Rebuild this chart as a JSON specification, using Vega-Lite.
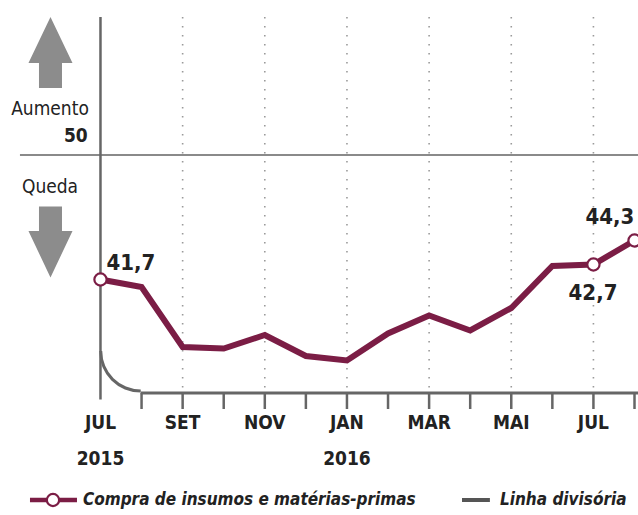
{
  "$schema": "https://vega.github.io/schema/vega-lite/v6.json",
  "width": 638,
  "height": 515,
  "autosize": {"type": "none"},
  "padding": 0,
  "background": "white",
  "config": {"view": {"stroke": null}, "font": "DejaVu Sans Condensed"},
  "datasets": {
    "series": [
      {"x": 0, "y": 41.7},
      {"x": 1, "y": 41.2},
      {"x": 2, "y": 37.2},
      {"x": 3, "y": 37.1},
      {"x": 4, "y": 38.0},
      {"x": 5, "y": 36.6},
      {"x": 6, "y": 36.3},
      {"x": 7, "y": 38.1},
      {"x": 8, "y": 39.3},
      {"x": 9, "y": 38.3},
      {"x": 10, "y": 39.8},
      {"x": 11, "y": 42.6},
      {"x": 12, "y": 42.7},
      {"x": 13, "y": 44.3}
    ],
    "markers": [
      {"x": 0, "y": 41.7},
      {"x": 12, "y": 42.7},
      {"x": 13, "y": 44.3}
    ],
    "valueLabels": [
      {"x": 0.742, "y": 42.35, "label": "41,7"},
      {"x": 11.99, "y": 40.35, "label": "42,7"},
      {"x": 12.4, "y": 45.4, "label": "44,3"}
    ],
    "grid": [
      {"x": 2, "y": 59.2, "y2": 34.133},
      {"x": 4, "y": 59.2, "y2": 34.133},
      {"x": 6, "y": 59.2, "y2": 34.133},
      {"x": 8, "y": 59.2, "y2": 34.133},
      {"x": 10, "y": 59.2, "y2": 34.133},
      {"x": 12, "y": 59.2, "y2": 34.133}
    ],
    "ticks": [
      {"x": 1, "y": 34.133, "y2": 33.067},
      {"x": 2, "y": 34.133, "y2": 33.067},
      {"x": 3, "y": 34.133, "y2": 33.067},
      {"x": 4, "y": 34.133, "y2": 33.067},
      {"x": 5, "y": 34.133, "y2": 33.067},
      {"x": 6, "y": 34.133, "y2": 33.067},
      {"x": 7, "y": 34.133, "y2": 33.067},
      {"x": 8, "y": 34.133, "y2": 33.067},
      {"x": 9, "y": 34.133, "y2": 33.067},
      {"x": 10, "y": 34.133, "y2": 33.067},
      {"x": 11, "y": 34.133, "y2": 33.067},
      {"x": 12, "y": 34.133, "y2": 33.067},
      {"x": 13, "y": 34.133, "y2": 33.067}
    ],
    "months": [
      {"x": 0, "y": 31.7, "label": "JUL"},
      {"x": 2, "y": 31.7, "label": "SET"},
      {"x": 4, "y": 31.7, "label": "NOV"},
      {"x": 6, "y": 31.7, "label": "JAN"},
      {"x": 8, "y": 31.7, "label": "MAR"},
      {"x": 10, "y": 31.7, "label": "MAI"},
      {"x": 12, "y": 31.7, "label": "JUL"},
      {"x": 0, "y": 29.35, "label": "2015"},
      {"x": 6, "y": 29.35, "label": "2016"}
    ],
    "arrows": [
      {"x": -1.217, "y": 56.83, "dir": "up"},
      {"x": -1.217, "y": 44.2, "dir": "down"}
    ]
  },
  "encoding": {
    "x": {"field": "x", "type": "quantitative", "scale": {"domain": [-2.446, 13.085], "nice": false, "zero": false}, "axis": null},
    "y": {"field": "y", "type": "quantitative", "scale": {"domain": [26, 60.333], "nice": false, "zero": false}, "axis": null}
  },
  "layer": [
    {
      "data": {"name": "grid"},
      "mark": {"type": "rule", "color": "#9a9a9a", "strokeWidth": 1.6, "strokeDash": [1.6, 7.4]},
      "encoding": {"y2": {"field": "y2"}}
    },
    {
      "data": {"values": [{"x": -1.96, "x2": 13.2, "y": 50}]},
      "mark": {"type": "rule", "color": "#8a8a8a", "strokeWidth": 2.2},
      "encoding": {"x2": {"field": "x2"}}
    },
    {
      "data": {"values": [{"x": 0, "y": 59.2, "y2": 33.7}]},
      "mark": {"type": "rule", "color": "#666666", "strokeWidth": 2.5},
      "encoding": {"y2": {"field": "y2"}}
    },
    {
      "data": {"values": [{"x": 0.98, "x2": 13.1, "y": 34.133}]},
      "mark": {"type": "rule", "color": "#666666", "strokeWidth": 3},
      "encoding": {"x2": {"field": "x2"}}
    },
    {
      "data": {"values": [{"x": 0.98, "y": 36.93}]},
      "mark": {"type": "arc", "theta": 3.14159, "theta2": 4.71239, "radius": 41.5, "radius2": 38.5, "color": "#666666"}
    },
    {
      "data": {"name": "ticks"},
      "mark": {"type": "rule", "color": "#666666", "strokeWidth": 2.5},
      "encoding": {"y2": {"field": "y2"}}
    },
    {
      "data": {"name": "arrows"},
      "mark": {"type": "point", "filled": true, "color": "#8c8c8c", "opacity": 1, "size": 5041},
      "encoding": {
        "shape": {
          "field": "dir", "type": "nominal", "legend": null,
          "scale": {"domain": ["up", "down"], "range": [
            "M0,-1L0.62,0.296L0.324,0.296L0.324,1L-0.324,1L-0.324,0.296L-0.62,0.296Z",
            "M0,1L0.62,-0.31L0.324,-0.31L0.324,-1L-0.324,-1L-0.324,-0.31L-0.62,-0.31Z"
          ]}
        }
      }
    },
    {
      "data": {"values": [
        {"x": -1.229, "y": 52.667, "label": "Aumento"},
        {"x": -1.229, "y": 47.467, "label": "Queda"}
      ]},
      "mark": {"type": "text", "fontSize": 19, "color": "#222222", "align": "center", "baseline": "alphabetic"},
      "encoding": {"text": {"field": "label"}}
    },
    {
      "data": {"values": [{"x": -0.31, "y": 50.867, "label": "50"}]},
      "mark": {"type": "text", "fontSize": 19, "fontWeight": "bold", "color": "#222222", "align": "right", "baseline": "alphabetic"},
      "encoding": {"text": {"field": "label"}}
    },
    {
      "data": {"name": "series"},
      "mark": {"type": "line", "color": "#7b1d45", "strokeWidth": 6}
    },
    {
      "data": {"name": "markers"},
      "mark": {"type": "point", "shape": "circle", "filled": true, "fill": "white", "stroke": "#7b1d45", "strokeWidth": 2.2, "opacity": 1, "size": 150}
    },
    {
      "data": {"name": "valueLabels"},
      "mark": {"type": "text", "fontSize": 22, "fontWeight": "bold", "color": "#222222", "align": "center", "baseline": "alphabetic"},
      "encoding": {"text": {"field": "label"}}
    },
    {
      "data": {"name": "months"},
      "mark": {"type": "text", "fontSize": 19, "fontWeight": "bold", "color": "#222222", "align": "center", "baseline": "alphabetic"},
      "encoding": {"text": {"field": "label"}}
    },
    {
      "data": {"values": [{"x": -1.716, "x2": -0.572, "y": 27.0}]},
      "mark": {"type": "rule", "color": "#7b1d45", "strokeWidth": 4.5},
      "encoding": {"x2": {"field": "x2"}}
    },
    {
      "data": {"values": [{"x": -1.156, "y": 27.0}]},
      "mark": {"type": "point", "shape": "circle", "filled": true, "fill": "white", "stroke": "#7b1d45", "strokeWidth": 2.2, "opacity": 1, "size": 150}
    },
    {
      "data": {"values": [{"x": 8.8, "x2": 9.48, "y": 27.0}]},
      "mark": {"type": "rule", "color": "#555555", "strokeWidth": 4},
      "encoding": {"x2": {"field": "x2"}}
    },
    {
      "data": {"values": [
        {"x": -0.426, "y": 27.0, "label": "Compra de insumos e matérias-primas"},
        {"x": 9.725, "y": 27.0, "label": "Linha divisória"}
      ]},
      "mark": {"type": "text", "fontSize": 17, "fontWeight": "bold", "fontStyle": "italic", "color": "#222222", "align": "left", "baseline": "middle"},
      "encoding": {"text": {"field": "label"}}
    }
  ]
}
